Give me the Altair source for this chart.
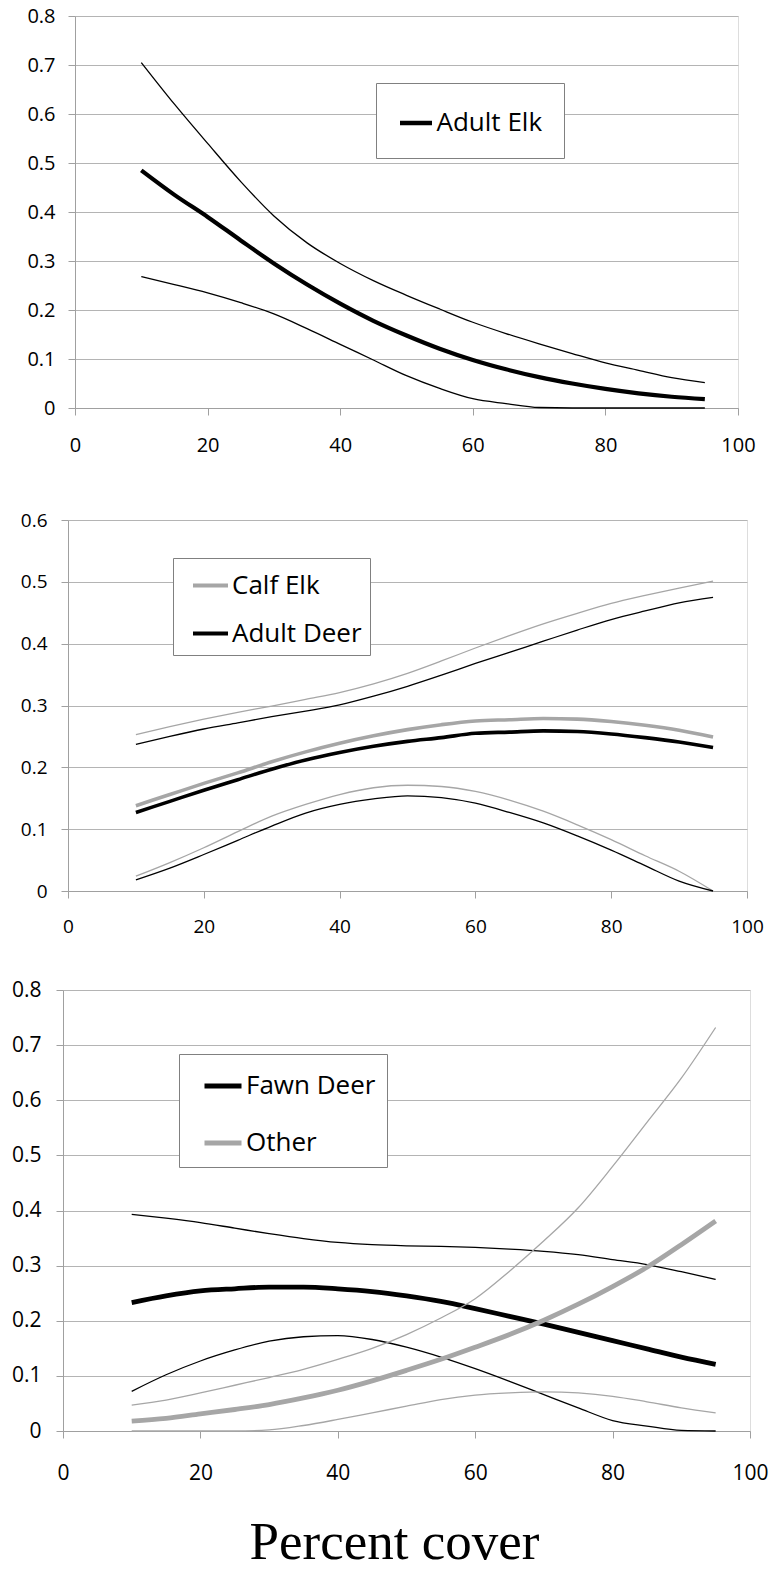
import altair as alt
import pandas as pd

# Percent cover at which each curve was evaluated
cover = [10, 15, 20, 25, 30, 35, 40, 45, 50, 55, 60, 65, 70, 75, 80, 85, 90, 95]

# Adult elk: estimate with lower / upper bounds
adult_elk = [0.485, 0.435, 0.390, 0.342, 0.295, 0.252, 0.213, 0.178, 0.148, 0.121,
             0.098, 0.079, 0.063, 0.050, 0.039, 0.030, 0.023, 0.018]
adult_elk_hi = [0.705, 0.620, 0.540, 0.462, 0.392, 0.337, 0.295, 0.260, 0.230, 0.202,
                0.175, 0.152, 0.131, 0.111, 0.092, 0.077, 0.062, 0.052]
adult_elk_lo = [0.268, 0.252, 0.235, 0.215, 0.192, 0.162, 0.130, 0.098, 0.066, 0.040,
                0.019, 0.009, 0.001, 0.0, 0.0, 0.0, 0.0, 0.0]

# Calf elk
calf_elk = [0.138, 0.156, 0.174, 0.191, 0.209, 0.225, 0.239, 0.251, 0.261, 0.269,
            0.275, 0.277, 0.279, 0.278, 0.274, 0.268, 0.260, 0.249]
calf_elk_hi = [0.253, 0.266, 0.278, 0.289, 0.299, 0.310, 0.321, 0.335, 0.352, 0.372,
               0.393, 0.413, 0.432, 0.449, 0.465, 0.478, 0.490, 0.501]
calf_elk_lo = [0.024, 0.046, 0.070, 0.096, 0.121, 0.140, 0.156, 0.167, 0.171, 0.169,
               0.161, 0.147, 0.129, 0.107, 0.083, 0.057, 0.032, 0.0]

# Adult deer
adult_deer = [0.127, 0.145, 0.163, 0.180, 0.197, 0.212, 0.224, 0.234, 0.242, 0.248,
              0.255, 0.257, 0.259, 0.258, 0.254, 0.248, 0.241, 0.232]
adult_deer_hi = [0.237, 0.250, 0.262, 0.272, 0.282, 0.291, 0.301, 0.315, 0.331, 0.349,
                 0.368, 0.386, 0.404, 0.422, 0.439, 0.453, 0.466, 0.475]
adult_deer_lo = [0.018, 0.037, 0.059, 0.082, 0.105, 0.126, 0.140, 0.149, 0.154, 0.151,
                 0.142, 0.127, 0.110, 0.089, 0.066, 0.041, 0.016, 0.0]

# Fawn deer
fawn_deer = [0.233, 0.245, 0.254, 0.258, 0.261, 0.261, 0.258, 0.253, 0.245, 0.235,
             0.222, 0.208, 0.194, 0.179, 0.164, 0.149, 0.134, 0.121]
fawn_deer_hi = [0.393, 0.386, 0.378, 0.368, 0.358, 0.349, 0.342, 0.338, 0.336, 0.335,
                0.333, 0.330, 0.326, 0.320, 0.311, 0.302, 0.289, 0.275]
fawn_deer_lo = [0.072, 0.102, 0.127, 0.147, 0.163, 0.171, 0.173, 0.166, 0.152, 0.134,
                0.113, 0.090, 0.066, 0.042, 0.019, 0.009, 0.001, 0.0]

# Other
other = [0.018, 0.023, 0.031, 0.039, 0.048, 0.060, 0.074, 0.091, 0.110, 0.130,
         0.152, 0.175, 0.201, 0.230, 0.262, 0.297, 0.338, 0.381]
other_hi = [0.047, 0.056, 0.069, 0.083, 0.097, 0.112, 0.130, 0.150, 0.175, 0.205,
            0.240, 0.290, 0.345, 0.405, 0.480, 0.560, 0.640, 0.732]
other_lo = [0.0, 0.0, 0.0, 0.0, 0.002, 0.010, 0.021, 0.033, 0.045, 0.057,
            0.065, 0.069, 0.071, 0.069, 0.063, 0.053, 0.042, 0.033]

x_ticks = [0, 20, 40, 60, 80, 100]
y_ticks_08 = [0, 0.1, 0.2, 0.3, 0.4, 0.5, 0.6, 0.7, 0.8]
y_ticks_06 = [0, 0.1, 0.2, 0.3, 0.4, 0.5, 0.6]

BLACK = "#000000"
GREY = "#a6a6a6"
LABEL_FONT = "Open Sans"
Y_AXIS_EXTENT = 60


def table(series):
    rows = []
    for species, band, values in series:
        for c, v in zip(cover, values):
            rows.append({"cover": c, "value": v, "species": species, "band": band})
    return pd.DataFrame(rows)


def indent(width):
    """Empty strip that pushes a panel to the right; draws nothing."""
    return (
        alt.Chart(pd.DataFrame({"v": [0]}))
        .mark_text(text="", opacity=0)
        .encode(x=alt.value(0), y=alt.value(0))
        .properties(width=width, height=1,
                    view=alt.ViewBackground(stroke=None, fill=None))
    )


def panel(df, names, colors, y_ticks, width, height, x_extent,
          label_size, x_pad, y_pad, legend, thick, x_title=None):
    x_axis = dict(
        values=x_ticks, grid=False, labelFlush=False, tickSize=7,
        labelPadding=x_pad, labelFont=LABEL_FONT, labelFontSize=label_size,
        labelColor=BLACK, domainColor="#a0a0a0", tickColor="#a0a0a0",
        minExtent=x_extent, title=None,
    )
    if x_title:
        x_axis.update(
            title=x_title[0], titleFont="Liberation Serif", titleFontSize=53,
            titleFontWeight="normal", titleColor=BLACK, titleX=x_title[1],
            titleY=x_title[2], titleBaseline="alphabetic", titleAlign="center",
        )
    return (
        alt.Chart(df)
        .mark_line(interpolate="monotone", strokeJoin="round")
        .encode(
            x=alt.X("cover:Q", scale=alt.Scale(domain=[0, 100], nice=False),
                    axis=alt.Axis(**x_axis)),
            y=alt.Y("value:Q", scale=alt.Scale(domain=[0, y_ticks[-1]], nice=False),
                    axis=alt.Axis(
                        values=y_ticks, title=None, grid=True, gridColor="#b4b4b4",
                        tickSize=7, labelPadding=y_pad, labelFont=LABEL_FONT,
                        labelFontSize=label_size, labelColor=BLACK,
                        domainColor="#a0a0a0", tickColor="#a0a0a0",
                        minExtent=Y_AXIS_EXTENT, maxExtent=Y_AXIS_EXTENT,
                        labelExpr="datum.value == 0 ? '0' : format(datum.value, '.1f')",
                    )),
            color=alt.Color(
                "species:N",
                scale=alt.Scale(domain=names, range=colors),
                legend=alt.Legend(
                    orient="none", legendX=legend["x"], legendY=legend["y"],
                    title=None, symbolType="stroke",
                    symbolSize=legend["len"] ** 2,
                    symbolStrokeWidth=legend["stroke"],
                    symbolOffset=legend["shift"], labelFont=LABEL_FONT,
                    labelFontSize=26, labelColor=BLACK, labelOffset=2,
                    padding=legend["pad"], rowPadding=legend["row"],
                    strokeColor="#808080", fillColor="white", cornerRadius=0,
                ),
            ),
            strokeWidth=alt.StrokeWidth(
                "band:N",
                scale=alt.Scale(type="ordinal",
                                domain=["estimate", "upper", "lower"],
                                range=[thick, 1.3, 1.3]),
                legend=None,
            ),
        )
        .properties(width=width, height=height)
    )


def row(left, chart):
    return (
        alt.hconcat(indent(left), chart, spacing=0)
        .resolve_scale(color="independent", strokeWidth="independent")
        .resolve_legend(color="independent", strokeWidth="independent")
    )


elk_df = table([
    ("Adult Elk", "upper", adult_elk_hi),
    ("Adult Elk", "lower", adult_elk_lo),
    ("Adult Elk", "estimate", adult_elk),
])

mid_df = table([
    ("Calf Elk", "upper", calf_elk_hi),
    ("Calf Elk", "lower", calf_elk_lo),
    ("Calf Elk", "estimate", calf_elk),
    ("Adult Deer", "upper", adult_deer_hi),
    ("Adult Deer", "lower", adult_deer_lo),
    ("Adult Deer", "estimate", adult_deer),
])

low_df = table([
    ("Fawn Deer", "upper", fawn_deer_hi),
    ("Fawn Deer", "lower", fawn_deer_lo),
    ("Fawn Deer", "estimate", fawn_deer),
    ("Other", "upper", other_hi),
    ("Other", "lower", other_lo),
    ("Other", "estimate", other),
])

top = panel(elk_df, ["Adult Elk"], [BLACK], y_ticks_08, 663, 392, 71,
            20, 20, 13,
            dict(x=301, y=67, len=32, stroke=4.5, shift=0, pad=21.5, row=0), 4.2)
middle = panel(mid_df, ["Calf Elk", "Adult Deer"], [GREY, BLACK], y_ticks_06,
               679, 371, 56, 19, 19, 14,
               dict(x=105, y=38, len=35, stroke=4, shift=10, pad=8, row=15), 3.6)
bottom = panel(low_df, ["Fawn Deer", "Other"], [BLACK, GREY], y_ticks_08,
               687, 441, 40, 21, 24, 15,
               dict(x=116, y=64, len=37, stroke=5, shift=12, pad=11, row=23), 4.8,
               x_title=("Percent cover", 331, 127))

chart = (
    alt.vconcat(row(14, top), row(6.7, middle), row(1.7, bottom), spacing=30)
    .resolve_scale(color="independent", strokeWidth="independent")
    .resolve_legend(color="independent", strokeWidth="independent")
    .properties(padding={"left": 0, "top": 5, "right": 0, "bottom": 0})
    .configure_view(stroke=None)
    .configure(background="white")
)

chart.save("out.html", embed_options={"renderer": "svg", "actions": False})
